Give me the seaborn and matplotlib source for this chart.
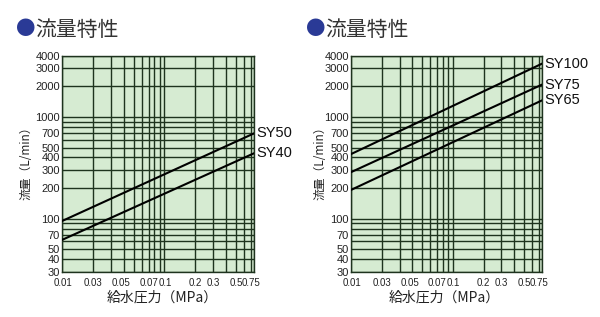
import matplotlib
matplotlib.use("Agg")
import matplotlib.pyplot as plt
import seaborn as sns
import pandas as pd
from matplotlib.ticker import FixedLocator, NullFormatter

sns.set_style("white")
plt.rcParams['font.family'] = ['Liberation Sans', 'Noto Sans CJK JP', 'DejaVu Sans']

# ---- data ----
pressure = [0.01, 0.75]
sy50 = [95, 690]
sy40 = [62, 440]
sy100 = [432, 3340]
sy75 = [287, 2080]
sy65 = [192, 1456]

ytick_vals = [30, 40, 50, 70, 100, 200, 300, 400, 500, 700, 1000, 2000, 3000, 4000]
ytick_labels = ["30", "40", "50", "70", "100", "200", "300", "400", "500", "700", "1000", "2000", "3000", "4000"]
ygrid_vals = [30, 40, 50, 60, 70, 80, 90, 100, 200, 300, 400, 500, 600, 700, 800, 900,
              1000, 2000, 3000, 4000]
# tick label positions as printed on the original chart
xtick_pos = [0.0102, 0.02, 0.038, 0.07, 0.102, 0.2, 0.3, 0.5, 0.7]
xtick_labels = ["0.01", "0.03", "0.05", "0.07", "0.1", "0.2", "0.3", "0.5", "0.75"]
xgrid_vals = [0.01, 0.02, 0.03, 0.04, 0.05, 0.06, 0.07, 0.08, 0.09,
              0.1, 0.2, 0.3, 0.4, 0.5, 0.6, 0.7, 0.75]

title = "流量特性"
xlabel = "給水圧力（MPa）"
ylabel = "流量（L/min）"

BG = "#d6ebd2"
GRID = "#1e331e"
W, H = 600, 317

fig = plt.figure(figsize=(6, 3.17), dpi=100)

def make_panel(left_px, right_px, series):
    ax = fig.add_axes([left_px / W, (H - 272) / H, (right_px - left_px) / W, (272 - 55.7) / H])
    ax.set_facecolor(BG)
    for name, vals in series:
        df = pd.DataFrame({"p": pressure, "q": vals})
        sns.lineplot(data=df, x="p", y="q", ax=ax, color="black", linewidth=1.5, zorder=3)
        ax.annotate(name, xy=(pressure[-1], vals[-1]), xytext=(2, 0),
                    textcoords="offset points", ha="left", va="center",
                    fontsize=10.5, annotation_clip=False, color="#111111")
    ax.set_xscale("log")
    ax.set_yscale("log")
    ax.set_xlim(0.01, 0.75)
    ax.set_ylim(30, 4000)
    ax.xaxis.remove_overlapping_locs = False
    ax.yaxis.remove_overlapping_locs = False
    ax.xaxis.set_major_locator(FixedLocator(xtick_pos))
    ax.xaxis.set_minor_locator(FixedLocator(xgrid_vals))
    ax.set_xticklabels(xtick_labels)
    ax.xaxis.set_minor_formatter(NullFormatter())
    ax.yaxis.set_major_locator(FixedLocator(ytick_vals))
    ax.yaxis.set_minor_locator(FixedLocator(ygrid_vals))
    ax.set_yticklabels(ytick_labels)
    ax.yaxis.set_minor_formatter(NullFormatter())
    ax.grid(False, which="major")
    ax.grid(True, which="minor", color=GRID, linewidth=1.0)
    ax.set_axisbelow(True)
    ax.tick_params(which="both", length=0)
    ax.tick_params(axis="x", pad=4, labelsize=7, colors="#222222")
    ax.tick_params(axis="y", pad=1.5, labelsize=8, colors="#222222")
    for lab in ax.get_xticklabels():
        lab.set_family(['Liberation Sans Narrow', 'Liberation Sans', 'DejaVu Sans'])
    for s in ax.spines.values():
        s.set_color(GRID)
        s.set_linewidth(1.0)
    ax.set_xlabel("")
    ax.set_ylabel("")
    return ax

make_panel(62, 254, [("SY50", sy50), ("SY40", sy40)])
make_panel(351, 542, [("SY100", sy100), ("SY75", sy75), ("SY65", sy65)])

cjk = ['Noto Sans CJK JP', 'DejaVu Sans']
for x0, tx0, xl, yl in [(16, 35, 162, 26), (306, 325, 444, 320)]:
    fig.text(x0 / W, 1 - 30 / H, "●", color="#2a3a96", fontsize=14, ha="left", va="center", family=cjk)
    fig.text(tx0 / W, 1 - 30 / H, title, color="#333333", fontsize=15, ha="left", va="center", family=cjk)
    fig.text(xl / W, 1 - 298 / H, xlabel, color="#222222", fontsize=10, ha="center", va="center", family=cjk)
    fig.text(yl / W, 1 - 160 / H, ylabel, color="#222222", fontsize=8.5, ha="center", va="center",
             rotation=90, family=cjk)

fig.savefig("out.png", dpi=100, facecolor="white")
